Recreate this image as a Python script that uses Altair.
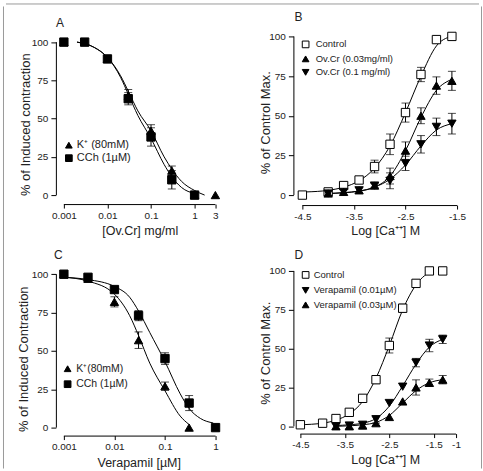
import altair as alt
import pandas as pd

FONT = "Liberation Sans"
INK = "#222222"

# ---------------- A: Ov.Cr against K+ (80 mM) and CCh (1 µM) ----------------
a_k_dose = [0.001, 0.003, 0.01, 0.03, 0.1, 0.3, 1, 3]
a_k = [100, 100, 89, 65, 42, 16, 0, 0]
a_k_sem = [0, 0, 0, 4, 4, 3, 0, 0]
a_cch_dose = [0.001, 0.003, 0.01, 0.03, 0.1, 0.3, 1]
a_cch = [100, 100, 89, 63, 38, 10, 0]
a_cch_sem = [0, 0, 0, 4, 6, 6, 0]
a_k_fit_dose = [0.002, 0.005, 0.01, 0.02, 0.03, 0.05, 0.1, 0.2, 0.3, 0.5, 1, 1.7]
a_k_fit = [100, 96.5, 90, 78, 68, 55, 42, 25, 17, 9, 3, 0]
a_cch_fit_dose = [0.002, 0.005, 0.01, 0.02, 0.03, 0.05, 0.1, 0.2, 0.3, 0.5, 1]
a_cch_fit = [100, 96.5, 90, 77, 66, 52, 37, 20, 12, 5, 1]
a_labels = ["K\u207a (80mM)", "CCh (1\u00b5M)"]

# ---------------- B: Ca++ curves with Ov.Cr ----------------
b_log = [-4.5, -4.0, -3.7, -3.4, -3.1, -2.8, -2.5, -2.2, -1.9, -1.6]
b_ctrl = [0, 2, 6, 9.5, 18, 32, 52, 76, 98, 100]
b_ctrl_sem = [0, 1, 1, 1, 4, 6.5, 6, 4.5, 0, 0]
b_drug_log = [-4.0, -3.7, -3.4, -3.1, -2.8, -2.5, -2.2, -1.9, -1.6]
b_low = [1, 2, 3, 6, 12, 28, 50, 69, 72]
b_low_sem = [0, 0, 0, 1.5, 5, 5.5, 5, 5.5, 6]
b_high = [1, 2, 3, 6, 9, 20, 32, 43, 45]
b_high_sem = [0, 0, 0, 1.5, 5, 4.5, 5.5, 5.5, 6.5]
b_ctrl_fit_log = [-4.42, -4.0, -3.7, -3.4, -3.1, -2.8, -2.5, -2.2, -1.9, -1.62]
b_ctrl_fit = [2, 3, 5, 9, 17, 31, 52, 75, 94, 100]
b_low_fit = [1, 1.5, 2.5, 5, 12, 28, 49, 66, 73]
b_high_fit = [1, 1.5, 2.5, 5, 10, 19, 31, 41, 45]
b_labels = ["Control", "Ov.Cr  (0.03mg/ml)", "Ov.Cr (0.1 mg/ml)"]

# ---------------- C: verapamil against K+ and CCh ----------------
c_k_dose = [0.001, 0.003, 0.01, 0.03, 0.1, 0.3]
c_k = [100, 97, 82, 57, 27, 0]
c_k_sem = [0, 0, 3.3, 5.4, 2.7, 0]
c_cch_dose = [0.001, 0.003, 0.01, 0.03, 0.1, 0.3, 1]
c_cch = [100, 98, 90, 73, 45, 16, 0]
c_cch_sem = [0, 0, 0, 3.3, 3.8, 4.9, 0]
c_k_fit_dose = [0.001, 0.003, 0.01, 0.02, 0.03, 0.05, 0.1, 0.2, 0.3]
c_k_fit = [98, 95.5, 87, 73, 60, 42, 24, 7.5, 2]
c_cch_fit_dose = [0.001, 0.003, 0.01, 0.02, 0.03, 0.05, 0.1, 0.2, 0.3, 0.5, 0.9]
c_cch_fit = [98, 96.5, 92, 85, 76, 62, 43, 22, 12.5, 6, 3]
c_labels = ["K\u207a(80mM)", "CCh (1\u00b5M)"]

# ---------------- D: Ca++ curves with verapamil ----------------
d_log = [-4.5, -4.0, -3.7, -3.4, -3.1, -2.8, -2.5, -2.2, -1.9, -1.6, -1.3]
d_ctrl = [1, 2, 5, 9, 18, 30, 52, 76, 92, 100, 100]
d_ctrl_sem = [0, 0, 0, 0, 0, 2.5, 4.8, 2.6, 2.2, 0, 0]
d_drug_log = [-3.7, -3.4, -3.1, -2.8, -2.5, -2.2, -1.9, -1.6, -1.3]
d_v01 = [0, 0.5, 1, 4.5, 15, 25.5, 41, 52, 56]
d_v01_sem = [2, 2, 2, 2.4, 0, 0, 2.7, 4, 2.7]
d_v03 = [0, 0, 0.5, 2, 6, 16, 25, 28, 30]
d_v03_sem = [0, 0, 0, 0, 0, 0, 4.9, 2.4, 2.7]
d_ctrl_fit_log = [-4.5, -4.0, -3.7, -3.4, -3.1, -2.8, -2.5, -2.2, -1.9, -1.6, -1.52]
d_ctrl_fit = [1, 2, 4, 8, 16, 31, 52, 75, 91, 99, 100]
d_v01_fit = [0.5, 1, 2, 5, 13, 26, 40, 51, 56]
d_v03_fit = [0, 0.3, 1, 2.5, 7, 15, 23, 28, 30]
d_labels = ["Control", "Verapamil  (0.01\u00b5M)", "Verapamil  (0.03\u00b5M)"]


def pts(name, xs, ys, sems):
    return pd.DataFrame({"x": xs, "y": ys, "sem": sems, "series": name})


def fit(name, xs, ys):
    return pd.DataFrame({"x": xs, "y": ys, "series": name})


def span(p_a, v_a, p_b, v_b, start, length):
    """Data values at pixel `start` and `start + length`, given two reference pixels."""
    k = (p_b - p_a) / (v_b - v_a)
    v0 = v_a + (start - p_a) / k
    v1 = v0 + length / k
    return sorted([v0, v1])


def x_axis(values, title, tx, ty):
    return alt.Axis(values=values, labelExpr="'' + datum.value", title=title,
                    titleX=tx, titleY=ty, titleBaseline="middle", titleAlign="center",
                    titleFontSize=12.5, tickSize=4, labelPadding=2, labelFontSize=10,
                    labelFlush=False, labelOverlap=False)


def y_axis(title, tx, ty):
    return alt.Axis(values=[0, 25, 50, 75, 100], labelExpr="'' + datum.value", title=title,
                    titleX=tx, titleY=ty, titleBaseline="middle", titleAlign="center",
                    titleFontSize=13, tickSize=5, labelPadding=3, labelFontSize=10,
                    labelOverlap=False)


def panel(points, fits, xscale, yscale, xaxis, yaxis, width, height, xline,
          order, shapes, fills, legend, letter, letter_xy, extra=()):
    err = points[points["sem"] > 0].copy()
    err["lo"] = err["y"] - err["sem"]
    err["hi"] = err["y"] + err["sem"]

    def X(f):
        return alt.X(f, type="quantitative", scale=xscale, axis=xaxis)

    def Y(f):
        return alt.Y(f, type="quantitative", scale=yscale, axis=yaxis)

    x_line = alt.Chart(pd.DataFrame({"x": [xline[0]], "x2": [xline[1]]})).mark_rule(
        color="black", strokeWidth=1).encode(x=X("x"), x2="x2:Q", y=alt.value(height + 0.5))
    y_line = alt.Chart(pd.DataFrame({"y": [0], "y2": [100]})).mark_rule(
        color="black", strokeWidth=1).encode(y=Y("y"), y2="y2:Q", x=alt.value(0.5))
    bars = alt.Chart(err).mark_rule(color="black", strokeWidth=1).encode(
        x=X("x"), y=Y("lo"), y2="hi:Q")
    cap_lo = alt.Chart(err).mark_tick(orient="horizontal", size=8, thickness=1, color="black").encode(
        x=X("x"), y=Y("lo"))
    cap_hi = alt.Chart(err).mark_tick(orient="horizontal", size=8, thickness=1, color="black").encode(
        x=X("x"), y=Y("hi"))
    lines = alt.Chart(fits).mark_line(color="black", strokeWidth=1, interpolate="monotone").encode(
        x=X("x"), y=Y("y"), detail="series:N")
    marks = alt.Chart(points).mark_point(size=70, strokeWidth=1, opacity=1).encode(
        x=X("x"), y=Y("y"),
        shape=alt.Shape("series:N", scale=alt.Scale(domain=order, range=shapes), legend=legend),
        fill=alt.Fill("series:N", scale=alt.Scale(domain=order, range=fills), legend=legend),
        stroke=alt.Stroke("series:N", scale=alt.Scale(domain=order, range=["black"] * len(order)),
                          legend=legend),
    )
    tag = alt.Chart(pd.DataFrame({"t": [letter]})).mark_text(
        align="left", baseline="alphabetic", font=FONT, fontSize=12, color=INK).encode(
        text="t:N", x=alt.value(letter_xy[0]), y=alt.value(letter_xy[1]))
    return alt.layer(*extra, x_line, y_line, bars, cap_lo, cap_hi, lines, marks, tag).properties(
        width=width, height=height)


def legend(lx, ly, fs, offset, rowpad):
    return alt.Legend(orient="none", legendX=lx, legendY=ly, title=None, padding=0,
                      labelFont=FONT, labelFontSize=fs, labelColor=INK, labelOffset=offset,
                      rowPadding=rowpad, symbolSize=45, symbolStrokeWidth=1,
                      symbolOpacity=1, labelLimit=300)


# page frame (gray rule around the figure), drawn from panel A's origin
frame = pd.DataFrame({"k": [0]})
FRAME = "#9a9a9a"
frame_left = alt.Chart(frame).mark_rule(color=FRAME, strokeWidth=1).encode(
    x=alt.value(-52.5), y=alt.value(-30), y2=alt.value(433))
frame_right = alt.Chart(frame).mark_rule(color=FRAME, strokeWidth=1).encode(
    x=alt.value(426.5), y=alt.value(-30), y2=alt.value(433))
frame_top = alt.Chart(frame).mark_rule(color=FRAME, strokeWidth=1).encode(
    x=alt.value(-50), x2=alt.value(424), y=alt.value(-32.5))

# ---- panel A ----
A_L, A_T, A_W, A_H = 55, 35, 163, 168
a_pts = pd.concat([pts(a_labels[0], a_k_dose, a_k, a_k_sem),
                   pts(a_labels[1], a_cch_dose, a_cch, a_cch_sem)])
a_fits = pd.concat([fit(a_labels[0], a_k_fit_dose, a_k_fit),
                    fit(a_labels[1], a_cch_fit_dose, a_cch_fit)])
ax = span(63, -3, 194, 0, A_L, A_W)
a_xscale = alt.Scale(type="log", domain=[10 ** ax[0], 10 ** ax[1]], nice=False)
a_yscale = alt.Scale(domain=span(40.7, 100, 194, 0, A_T, A_H), nice=False, zero=False)
panel_a = panel(a_pts, a_fits, a_xscale, a_yscale,
                x_axis([0.001, 0.01, 0.1, 1, 3], "[Ov.Cr] mg/ml", 84, 26),
                y_axis("% of Induced contraction", -30, 88),
                A_W, A_H, (0.001, 3), a_labels, ["triangle-up", "square"], ["black", "black"],
                legend(7.5, 103.5, 11, 2.5, 1), "A", (0, -9.5),
                extra=(frame_left, frame_right, frame_top))

# ---- panel B ----
COL2 = 297
B_L, B_T, B_W, B_H = COL2, 35, 167, 169
b_pts = pd.concat([pts(b_labels[0], b_log, b_ctrl, b_ctrl_sem),
                   pts(b_labels[2], b_drug_log, b_high, b_high_sem),
                   pts(b_labels[1], b_drug_log, b_low, b_low_sem)])
b_fits = pd.concat([fit(b_labels[0], b_ctrl_fit_log, b_ctrl_fit),
                    fit(b_labels[1], b_drug_log, b_low_fit),
                    fit(b_labels[2], b_drug_log, b_high_fit)])
b_xscale = alt.Scale(domain=span(306, -4.5, 461, -1.5, B_L, B_W), nice=False, zero=False)
b_yscale = alt.Scale(domain=span(35, 100, 194, 0, B_T, B_H), nice=False, zero=False)
panel_b = panel(b_pts, b_fits, b_xscale, b_yscale,
                x_axis([-4.5, -3.5, -2.5, -1.5], "Log [Ca\u207a\u207a] M", 92, 26),
                y_axis("% of Control Max.", -28, 86),
                B_W, B_H, (-4.5, -1.5), b_labels,
                ["square", "triangle-up", "triangle-down"], ["white", "black", "black"],
                legend(7.5, 3.25, 9.5, 5.4, 2.5), "B", (1, -15))

# ---- panel C ----
C_L, C_T, C_W, C_H = 55, 270, 163, 165
c_pts = pd.concat([pts(c_labels[0], c_k_dose, c_k, c_k_sem),
                   pts(c_labels[1], c_cch_dose, c_cch, c_cch_sem)])
c_fits = pd.concat([fit(c_labels[0], c_k_fit_dose, c_k_fit),
                    fit(c_labels[1], c_cch_fit_dose, c_cch_fit)])
cx = span(63, -3, 215, 0, C_L, C_W)
c_xscale = alt.Scale(type="log", domain=[10 ** cx[0], 10 ** cx[1]], nice=False)
c_yscale = alt.Scale(domain=span(273.3, 100, 427, 0, C_T, C_H), nice=False, zero=False)
panel_c = panel(c_pts, c_fits, c_xscale, c_yscale,
                x_axis([0.001, 0.01, 0.1, 1], "Verapamil [\u00b5M]", 83, 27),
                y_axis("% of Induced Contraction", -32.5, 88),
                C_W, C_H, (0.001, 1), c_labels, ["triangle-up", "square"], ["black", "black"],
                legend(6.5, 92.75, 10.5, 3.4, 3.5), "C", (-2, -12))

# ---- panel D ----
D_L, D_T, D_W, D_H = COL2, 270, 167, 163
d_pts = pd.concat([pts(d_labels[0], d_log, d_ctrl, d_ctrl_sem),
                   pts(d_labels[2], d_drug_log, d_v03, d_v03_sem),
                   pts(d_labels[1], d_drug_log, d_v01, d_v01_sem)])
d_fits = pd.concat([fit(d_labels[0], d_ctrl_fit_log, d_ctrl_fit),
                    fit(d_labels[1], d_drug_log, d_v01_fit),
                    fit(d_labels[2], d_drug_log, d_v03_fit)])
d_xscale = alt.Scale(domain=span(304, -4.5, 460, -1.0, D_L, D_W), nice=False, zero=False)
d_yscale = alt.Scale(domain=span(270, 100, 425.7, 0, D_T, D_H), nice=False, zero=False)
panel_d = panel(d_pts, d_fits, d_xscale, d_yscale,
                x_axis([-4.5, -3.5, -2.5, -1.5, -1], "Log [Ca\u207a\u207a] M", 92, 26),
                y_axis("% of Control Max.", -28, 82),
                D_W, D_H, (-4.5, -1.0), d_labels,
                ["square", "triangle-down", "triangle-up"], ["white", "black", "black"],
                legend(7.5, -0.75, 9.5, 3.4, 3.5), "D", (1, -12))

indep = dict(x="independent", y="independent", shape="independent", fill="independent",
             stroke="independent")
cell_w = max(A_W, B_W, C_W, D_W)
cell_h = max(A_H, B_H, C_H, D_H)

chart = (
    alt.concat(panel_a, panel_b, panel_c, panel_d, columns=2, bounds="flush",
               spacing={"row": C_T - A_T - cell_h, "column": COL2 - A_L - cell_w})
    .resolve_scale(**indep)
    .properties(padding={"left": 2, "top": 2, "right": 0, "bottom": 0}, background="white")
    .configure_view(stroke="transparent")
    .configure_axis(domain=False, grid=False, ticks=True, tickColor="black", tickWidth=1,
                    labelFont=FONT, titleFont=FONT, labelColor=INK, titleColor=INK,
                    titleFontWeight="normal")
)

chart.save("out.html", embed_options={"renderer": "svg", "actions": False})
